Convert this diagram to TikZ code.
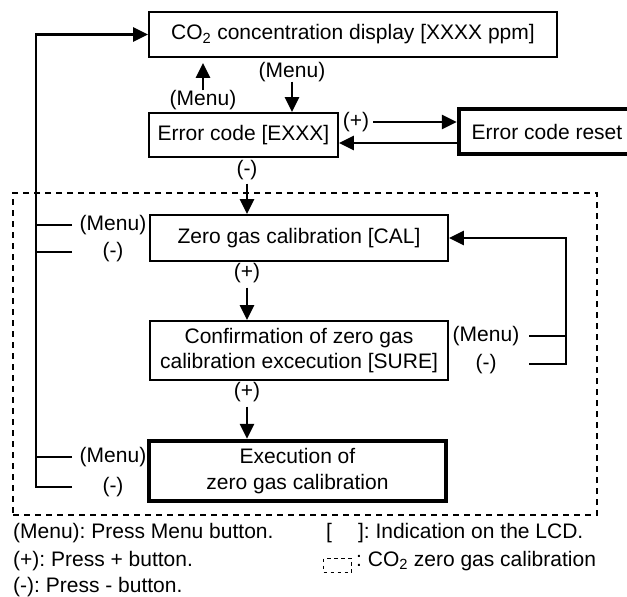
\documentclass[tikz,border=0pt]{standalone}
\usepackage{fontspec}
\setmainfont{Liberation Sans}
\usetikzlibrary{arrows.meta}
\frenchspacing
\begin{document}
\begin{tikzpicture}[x=1pt,y=-1pt, font=\fontsize{21}{25.5}\selectfont\frenchspacing,
 box/.style={draw, line width=1.8pt, inner sep=0pt, align=center},
 thickbox/.style={box, line width=4.5pt},
 lbl/.style={inner sep=0pt, text height=14.5pt, text depth=4.5pt},
 conn/.style={line width=2.6pt, -{Triangle[length=15pt,width=14pt]}},
 plain/.style={line width=2.6pt},
 zonebox/.style={draw, line width=1.5pt, dash pattern=on 6pt off 5pt, inner sep=0pt},
]
\useasboundingbox (0,0) rectangle (627,597);
\clip (0,0) rectangle (627,597);

% dashed zone
\node[zonebox, minimum width=584pt, minimum height=322pt] (zone) at (305,354) {};

% boxes
\node[box, minimum width=408pt, minimum height=45pt] (co2) at (353,34.5) {CO\textsubscript{2} concentration display [XXXX ppm]};
\node[box, minimum width=189pt, minimum height=44pt] (err) at (243.5,135) {Error code [EXXX]};
\node[thickbox, minimum width=176pt, minimum height=45pt] (reset) at (547,131.5) {Error code reset};
\node[box, minimum width=298pt, minimum height=46pt] (cal) at (299,238) {Zero gas calibration [CAL]};
\node[box, minimum width=298pt, minimum height=59pt] (sure) at (299,350.5) {Confirmation of zero gas\\calibration excecution [SURE]};
\node[thickbox, minimum width=297pt, minimum height=60pt] (exe) at (297.5,471) {Execution of\\zero gas calibration};

% labels
\node[lbl] (m1) at (203,100) {(Menu)};
\node[lbl] (m2) at (292,72) {(Menu)};
\node[lbl] (p1) at (356,122) {(+)};
\node[lbl] (n1) at (247,170) {(-)};
\node[lbl] (p2) at (247,273) {(+)};
\node[lbl] (p3) at (247,392) {(+)};
\node[lbl] (L1) at (113,225) {(Menu)};
\node[lbl] (L2) at (113,252) {(-)};
\node[lbl] (L3) at (113,457) {(Menu)};
\node[lbl] (L4) at (113,487) {(-)};
\node[lbl] (R1) at (486,336) {(Menu)};
\node[lbl] (R2) at (486,364) {(-)};

% helper coordinates
\coordinate (lx) at (72,0);
\coordinate (vx) at (36,0);
\coordinate (rx) at (529,0);
\coordinate (rv) at (566,0);
\coordinate (b1) at (457,143);
\coordinate (a1) at (373,122);

% connectors
\draw[conn, shorten >=5pt] (m1.north) -- (m1.north |- co2.south);
\draw[conn] (m2.south) -- (m2.south |- err.north);
\draw[conn] (a1) -- (a1 -| reset.west);
\draw[conn] (b1) -- (b1 -| err.east);
\draw[conn, shorten <=4pt] (n1.south) -- (n1.south |- cal.north);
\draw[conn, shorten <=5pt] (p2.south) -- (p2.south |- sure.north);
\draw[conn, shorten <=5pt] (p3.south) -- (p3.south |- exe.north);

\draw[plain] (L1 -| lx) -- (L1 -| vx);
\draw[plain] (L2 -| lx) -- (L2 -| vx);
\draw[plain] (L3 -| lx) -- (L3 -| vx);
\draw[conn] (L4 -| lx) -- (L4 -| vx) -- (co2.west -| vx) -- (co2.west);

\draw[plain] (R1 -| rx) -- (R1 -| rv);
\draw[conn] (R2 -| rx) -- (R2 -| rv) -- (cal.east -| rv) -- (cal.east);

% legend
\node[lbl, anchor=west] (leg1) at (13,533) {(Menu): Press Menu button.};
\node[lbl, anchor=west] (leg2) at (13,561) {(+): Press + button.};
\node[lbl, anchor=west] (leg3) at (13,587) {(-): Press - button.};
\node[lbl, anchor=west] (leg4) at (326,533) {[\hspace{26pt}]: Indication on the LCD.};
\node[draw, line width=1.4pt, dash pattern=on 3.5pt off 3.5pt, inner sep=0pt, minimum width=28pt, minimum height=14pt] (icon) at (337.5,565.5) {};
\node[lbl, anchor=west] (leg5) at (356,561) {: CO\textsubscript{2} zero gas calibration};
\end{tikzpicture}
\end{document}
